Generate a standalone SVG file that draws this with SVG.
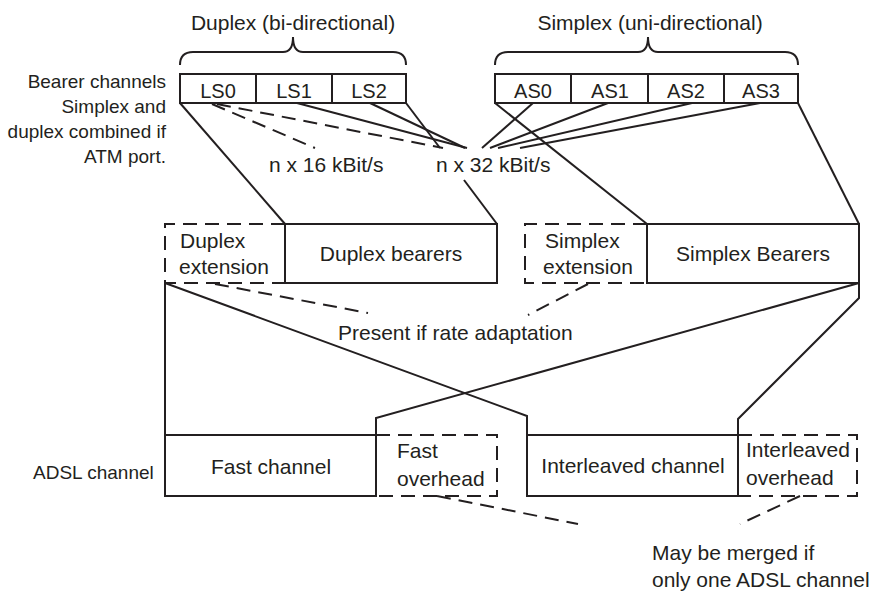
<svg xmlns="http://www.w3.org/2000/svg" width="877" height="591" viewBox="0 0 877 591">
<style>
.ln{stroke:#231f20;stroke-width:2;fill:none;stroke-linejoin:miter}
.ds{stroke:#231f20;stroke-width:2;fill:none;stroke-dasharray:14 8}
.bx{stroke:#231f20;stroke-width:2;fill:#fff}
text{font-family:"Liberation Sans",Arial,sans-serif;fill:#231f20;font-size:21px}
.sm{font-size:19px}
.md{font-size:20px}
.c{text-anchor:middle}
.r{text-anchor:end}
</style>
<rect width="877" height="591" fill="#fff"/>
<g id="connectors">
<line class="ln" x1="180" y1="103" x2="285" y2="224"/>
<line class="ln" x1="406" y1="103" x2="440" y2="148"/>
<line class="ln" x1="464" y1="180" x2="497" y2="224"/>
<line class="ln" x1="495" y1="103" x2="647" y2="224"/>
<line class="ln" x1="798" y1="103" x2="859" y2="224"/>
<line class="ln" x1="297" y1="103" x2="467" y2="148"/>
<line class="ln" x1="370" y1="103" x2="465" y2="148"/>
<line class="ln" x1="533" y1="103" x2="482" y2="148"/>
<line class="ln" x1="608" y1="103" x2="490" y2="148"/>
<line class="ln" x1="692" y1="103" x2="498" y2="148"/>
<line class="ln" x1="760" y1="103" x2="520" y2="148"/>
<line class="ds" x1="212" y1="104" x2="315" y2="148"/>
<line class="ds" x1="217" y1="104" x2="443" y2="148"/>
<line class="ln" x1="165" y1="283" x2="165" y2="435"/>
<polyline class="ln" points="165,283 527,416 527,435"/>
<polyline class="ln" points="859,283 376,418 376,435"/>
<polyline class="ln" points="859,283 859,298 738,419 738,435"/>
<line class="ds" x1="215" y1="284" x2="368" y2="313"/>
<line class="ds" x1="588" y1="284" x2="528" y2="315"/>
<line class="ds" x1="437" y1="496" x2="578" y2="524"/>
<line class="ds" x1="800" y1="496" x2="740" y2="524"/>
</g>
<g id="duplex-brace">
<path class="ln" d="M180,65 Q180,52 193,52 H283 Q293,52 293,37 Q293,52 303,52 H393 Q406,52 406,65"/>
<text class="c" x="293" y="30">Duplex (bi-directional)</text>
</g>
<g id="simplex-brace">
<path class="ln" d="M495,65 Q495,52 508,52 H638 Q648,52 648,37 Q648,52 658,52 H785 Q798,52 798,65"/>
<text class="c" x="650" y="30">Simplex (uni-directional)</text>
</g>
<g id="bearer-label">
<text class="sm r" x="166" y="88">Bearer channels</text>
<text class="sm r" x="166" y="113">Simplex and</text>
<text class="sm r" x="166" y="138">duplex combined if</text>
<text class="sm r" x="166" y="163">ATM port.</text>
</g>
<g id="LS0"><rect class="bx" x="180" y="74" width="76" height="29"/><text class="md c" x="218" y="98">LS0</text></g>
<g id="LS1"><rect class="bx" x="256" y="74" width="76" height="29"/><text class="md c" x="294" y="98">LS1</text></g>
<g id="LS2"><rect class="bx" x="332" y="74" width="74" height="29"/><text class="md c" x="369" y="98">LS2</text></g>
<g id="AS0"><rect class="bx" x="495" y="74" width="76" height="29"/><text class="md c" x="533" y="98">AS0</text></g>
<g id="AS1"><rect class="bx" x="571" y="74" width="77" height="29"/><text class="md c" x="610" y="98">AS1</text></g>
<g id="AS2"><rect class="bx" x="648" y="74" width="76" height="29"/><text class="md c" x="686" y="98">AS2</text></g>
<g id="AS3"><rect class="bx" x="724" y="74" width="74" height="29"/><text class="md c" x="761" y="98">AS3</text></g>
<g id="rate16"><text x="269" y="172">n x 16 kBit/s</text></g>
<g id="rate32"><text x="436" y="172">n x 32 kBit/s</text></g>
<g id="duplex-extension">
<path class="ds" d="M285,224 H165 V283 H285"/>
<text x="180" y="248">Duplex</text>
<text x="179" y="274">extension</text>
</g>
<g id="duplex-bearers"><rect class="bx" x="285" y="224" width="212" height="59"/><text class="c" x="391" y="261">Duplex bearers</text></g>
<g id="simplex-extension">
<path class="ds" d="M647,224 H525 V283 H647"/>
<text x="545" y="248">Simplex</text>
<text x="543" y="274">extension</text>
</g>
<g id="simplex-bearers"><rect class="bx" x="647" y="224" width="212" height="59"/><text class="c" x="753" y="261">Simplex Bearers</text></g>
<g id="rate-adaptation-note"><text x="338" y="340">Present if rate adaptation</text></g>
<g id="adsl-label"><text class="sm" x="33" y="479">ADSL channel</text></g>
<g id="fast-channel"><rect class="bx" x="165" y="435" width="211" height="61"/><text class="c" x="271" y="474">Fast channel</text></g>
<g id="fast-overhead">
<path class="ds" d="M376,435 H497 V496 H376"/>
<text x="397" y="458">Fast</text>
<text x="397" y="486">overhead</text>
</g>
<g id="interleaved-channel"><rect class="bx" x="527" y="435" width="211" height="61"/><text class="c" x="633" y="473">Interleaved channel</text></g>
<g id="interleaved-overhead">
<path class="ds" d="M738,435 H857 V496 H738"/>
<text x="746" y="457">Interleaved</text>
<text x="746" y="485">overhead</text>
</g>
<g id="merge-note">
<text x="652" y="560">May be merged if</text>
<text x="652" y="587">only one ADSL channel</text>
</g>
</svg>
